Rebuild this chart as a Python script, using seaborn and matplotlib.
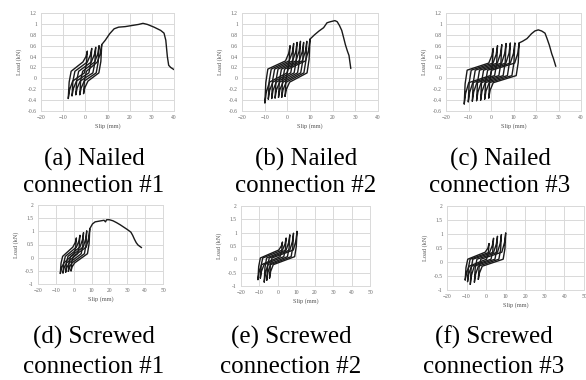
import matplotlib
matplotlib.use('Agg')
import matplotlib.pyplot as plt
import seaborn as sns
import pandas as pd
import numpy as np

# ---- data (slip in mm, load in kN) ----
# (a) Nailed connection #1
A_LOOP_X = [
    [-7.7, -7.3, -6.4, -1.1, 0.3, 0.9, 0.5, -0.4, -5.7, -7.1, -7.7],
    [-6.0, -5.6, -4.7, 0.9, 2.3, 2.9, 2.5, 1.6, -4.0, -5.4, -6.0],
    [-4.3, -3.9, -3.0, 2.7, 4.1, 4.7, 4.3, 3.4, -2.3, -3.7, -4.3],
    [-2.5, -2.1, -1.2, 4.2, 5.6, 6.2, 5.8, 4.9, -0.5, -1.9, -2.5],
    [-0.8, -0.4, 0.5, 5.4, 6.8, 7.4, 7.0, 6.1, 1.2, -0.2, -0.8],
]
A_LOOP_Y = [
    [-0.37, -0.07, 0.13, 0.30, 0.40, 0.50, 0.26, 0.10, -0.05, -0.21, -0.37],
    [-0.32, -0.05, 0.13, 0.30, 0.43, 0.55, 0.28, 0.10, -0.05, -0.19, -0.32],
    [-0.30, -0.04, 0.13, 0.30, 0.44, 0.57, 0.29, 0.10, -0.05, -0.18, -0.30],
    [-0.30, -0.04, 0.13, 0.30, 0.45, 0.60, 0.30, 0.10, -0.05, -0.18, -0.30],
    [-0.28, -0.03, 0.13, 0.30, 0.46, 0.62, 0.31, 0.10, -0.05, -0.17, -0.28],
]
A_ENV_X = [7.4, 9, 11, 13, 15, 18, 21, 24, 26, 28, 31, 34, 35.5, 36.3, 37, 37.6, 38.5, 40]
A_ENV_Y = [0.62, 0.70, 0.82, 0.91, 0.94, 0.95, 0.97, 0.99, 1.01, 0.99, 0.94, 0.88, 0.83, 0.70, 0.40, 0.24, 0.20, 0.16]

# (b) Nailed connection #2
B_LOOP_X = [
    [-9.9, -9.5, -8.6, -0.8, 0.6, 1.2, 0.8, -0.1, -7.9, -9.3, -9.9],
    [-8.4, -8.0, -7.1, 0.8, 2.2, 2.8, 2.4, 1.5, -6.4, -7.8, -8.4],
    [-6.9, -6.5, -5.6, 2.3, 3.7, 4.3, 3.9, 3.0, -4.9, -6.3, -6.9],
    [-5.4, -5.0, -4.1, 3.8, 5.2, 5.8, 5.4, 4.5, -3.4, -4.8, -5.4],
    [-3.9, -3.5, -2.6, 5.2, 6.6, 7.2, 6.8, 5.9, -1.9, -3.3, -3.9],
    [-2.5, -2.1, -1.2, 6.6, 8.0, 8.6, 8.2, 7.3, -0.5, -1.9, -2.5],
    [-1.0, -0.6, 0.3, 8.0, 9.4, 10.0, 9.6, 8.7, 1.0, -0.4, -1.0],
]
B_LOOP_Y = [
    [-0.45, -0.08, 0.17, 0.32, 0.46, 0.60, 0.30, 0.10, -0.07, -0.26, -0.45],
    [-0.38, -0.05, 0.17, 0.32, 0.48, 0.64, 0.32, 0.10, -0.07, -0.22, -0.38],
    [-0.37, -0.04, 0.17, 0.32, 0.49, 0.66, 0.32, 0.10, -0.07, -0.22, -0.37],
    [-0.36, -0.04, 0.17, 0.32, 0.50, 0.68, 0.33, 0.10, -0.07, -0.21, -0.36],
    [-0.35, -0.04, 0.17, 0.32, 0.49, 0.66, 0.32, 0.10, -0.07, -0.21, -0.35],
    [-0.35, -0.04, 0.17, 0.32, 0.50, 0.68, 0.33, 0.10, -0.07, -0.21, -0.35],
    [-0.33, -0.02, 0.17, 0.32, 0.52, 0.72, 0.35, 0.10, -0.07, -0.20, -0.33],
]
B_ENV_X = [10, 12, 14, 16, 17.5, 19, 21, 22, 23, 24, 25, 25.6, 26.5, 27.2, 27.6, 28]
B_ENV_Y = [0.72, 0.80, 0.87, 0.93, 1.02, 1.04, 1.06, 1.04, 0.97, 0.88, 0.72, 0.62, 0.50, 0.42, 0.30, 0.18]

# (c) Nailed connection #3
C_LOOP_X = [
    [-11.9, -11.5, -10.6, -1.0, 0.4, 1.0, 0.6, -0.3, -9.9, -11.3, -11.9],
    [-10.1, -9.7, -8.8, 0.9, 2.3, 2.9, 2.5, 1.6, -8.1, -9.5, -10.1],
    [-8.3, -7.9, -7.0, 2.8, 4.2, 4.8, 4.4, 3.5, -6.3, -7.7, -8.3],
    [-6.4, -6.0, -5.1, 4.7, 6.1, 6.7, 6.3, 5.4, -4.4, -5.8, -6.4],
    [-4.6, -4.2, -3.3, 6.6, 8.0, 8.6, 8.2, 7.3, -2.6, -4.0, -4.6],
    [-2.8, -2.4, -1.5, 8.6, 10.0, 10.6, 10.2, 9.3, -0.8, -2.2, -2.8],
    [-1.0, -0.6, 0.3, 10.5, 11.9, 12.5, 12.1, 11.2, 1.0, -0.4, -1.0],
]
C_LOOP_Y = [
    [-0.47, -0.10, 0.15, 0.28, 0.42, 0.55, 0.25, 0.05, -0.08, -0.28, -0.47],
    [-0.43, -0.08, 0.15, 0.28, 0.44, 0.60, 0.27, 0.05, -0.08, -0.26, -0.43],
    [-0.42, -0.08, 0.15, 0.28, 0.45, 0.62, 0.28, 0.05, -0.08, -0.25, -0.42],
    [-0.41, -0.07, 0.15, 0.28, 0.46, 0.64, 0.29, 0.05, -0.08, -0.25, -0.41],
    [-0.40, -0.07, 0.15, 0.28, 0.46, 0.65, 0.29, 0.05, -0.08, -0.24, -0.40],
    [-0.38, -0.06, 0.15, 0.28, 0.46, 0.65, 0.29, 0.05, -0.08, -0.23, -0.38],
    [-0.36, -0.05, 0.15, 0.28, 0.46, 0.65, 0.29, 0.05, -0.08, -0.22, -0.36],
]
C_ENV_X = [12.5, 14, 16, 18, 19.5, 21, 22.5, 24, 25, 26, 27, 27.7, 28, 28.8]
C_ENV_Y = [0.65, 0.68, 0.73, 0.82, 0.87, 0.89, 0.87, 0.83, 0.72, 0.60, 0.45, 0.37, 0.33, 0.22]

# (d) Screwed connection #1
D_LOOP_X = [
    [-7.5, -7.1, -6.2, -0.5, 0.9, 1.5, 1.1, 0.2, -5.5, -6.9, -7.5],
    [-6.0, -5.6, -4.7, 1.5, 2.9, 3.5, 3.1, 2.2, -4.0, -5.4, -6.0],
    [-4.5, -4.1, -3.2, 3.5, 4.9, 5.5, 5.1, 4.2, -2.5, -3.9, -4.5],
    [-3.0, -2.6, -1.7, 5.3, 6.7, 7.3, 6.9, 6.0, -1.0, -2.4, -3.0],
    [-1.5, -1.1, -0.2, 7.0, 8.4, 9.0, 8.6, 7.7, 0.5, -0.9, -1.5],
]
D_LOOP_Y = [
    [-0.60, -0.21, 0.05, 0.40, 0.58, 0.75, 0.39, 0.15, -0.20, -0.40, -0.60],
    [-0.58, -0.20, 0.05, 0.40, 0.63, 0.85, 0.43, 0.15, -0.20, -0.39, -0.58],
    [-0.55, -0.19, 0.05, 0.40, 0.68, 0.95, 0.47, 0.15, -0.20, -0.38, -0.55],
    [-0.52, -0.18, 0.05, 0.40, 0.71, 1.02, 0.50, 0.15, -0.20, -0.36, -0.52],
    [-0.50, -0.17, 0.05, 0.40, 0.75, 1.10, 0.53, 0.15, -0.20, -0.35, -0.50],
]
D_ENV_X = [9.0, 10.5, 12, 14.5, 17, 17.8, 18.4, 20, 22, 24, 26, 28, 30, 32, 33, 34, 35, 36, 38]
D_ENV_Y = [1.10, 1.28, 1.36, 1.39, 1.42, 1.36, 1.44, 1.44, 1.40, 1.33, 1.25, 1.16, 1.07, 0.97, 0.85, 0.70, 0.57, 0.48, 0.38]

# (e) Screwed connection #2
E_LOOP_X = [
    [-10.8, -10.4, -9.5, 0.5, 1.9, 2.5, 2.1, 1.2, -8.8, -10.2, -10.8],
    [-9.5, -9.1, -8.2, 2.5, 3.9, 4.5, 4.1, 3.2, -7.5, -8.9, -9.5],
    [-7.4, -7.0, -6.1, 4.5, 5.9, 6.5, 6.1, 5.2, -5.4, -6.8, -7.4],
    [-6.0, -5.6, -4.7, 6.5, 7.9, 8.5, 8.1, 7.2, -4.0, -5.4, -6.0],
    [-4.5, -4.1, -3.2, 8.4, 9.8, 10.4, 10.0, 9.1, -2.5, -3.9, -4.5],
]
E_LOOP_Y = [
    [-0.76, -0.27, 0.05, 0.35, 0.50, 0.65, 0.32, 0.10, -0.20, -0.48, -0.76],
    [-0.70, -0.24, 0.05, 0.35, 0.58, 0.80, 0.38, 0.10, -0.20, -0.45, -0.70],
    [-0.85, -0.31, 0.05, 0.35, 0.64, 0.92, 0.43, 0.10, -0.20, -0.53, -0.85],
    [-0.78, -0.28, 0.05, 0.35, 0.67, 0.98, 0.45, 0.10, -0.20, -0.49, -0.78],
    [-0.70, -0.24, 0.05, 0.35, 0.70, 1.05, 0.48, 0.10, -0.20, -0.45, -0.70],
]

# (f) Screwed connection #3
F_LOOP_X = [
    [-10.7, -10.3, -9.4, -0.5, 0.9, 1.5, 1.1, 0.2, -8.7, -10.1, -10.7],
    [-9.5, -9.1, -8.2, 1.8, 3.2, 3.8, 3.4, 2.5, -7.5, -8.9, -9.5],
    [-8.1, -7.7, -6.8, 3.8, 5.2, 5.8, 5.4, 4.5, -6.1, -7.5, -8.1],
    [-6.0, -5.6, -4.7, 5.8, 7.2, 7.8, 7.4, 6.5, -4.0, -5.4, -6.0],
    [-4.0, -3.6, -2.7, 8.0, 9.4, 10.0, 9.6, 8.7, -2.0, -3.4, -4.0],
]
F_LOOP_Y = [
    [-0.64, -0.20, 0.10, 0.35, 0.50, 0.66, 0.32, 0.10, -0.15, -0.40, -0.64],
    [-0.70, -0.22, 0.10, 0.35, 0.60, 0.85, 0.40, 0.10, -0.15, -0.43, -0.70],
    [-0.80, -0.26, 0.10, 0.35, 0.64, 0.92, 0.43, 0.10, -0.15, -0.48, -0.80],
    [-0.72, -0.23, 0.10, 0.35, 0.67, 0.98, 0.45, 0.10, -0.15, -0.44, -0.72],
    [-0.62, -0.19, 0.10, 0.35, 0.70, 1.04, 0.48, 0.10, -0.15, -0.39, -0.62],
]

NAILED_XTICKS = [-20, -10, 0, 10, 20, 30, 40]
NAILED_YTICKS = [-0.6, -0.4, -0.2, 0, 0.2, 0.4, 0.6, 0.8, 1, 1.2]
SCREWED_XTICKS = [-20, -10, 0, 10, 20, 30, 40, 50]
SCREWED_YTICKS = [-1, -0.5, 0, 0.5, 1, 1.5, 2]

CAPTIONS = [
    ('(a) Nailed', 'connection #1'), ('(b) Nailed', 'connection #2'), ('(c) Nailed', 'connection #3'),
    ('(d) Screwed', 'connection #1'), ('(e) Screwed', 'connection #2'), ('(f) Screwed', 'connection #3'),
]

W, H = 586, 380
sns.set_style('whitegrid')
plt.rcParams['font.family'] = ['Liberation Serif', 'DejaVu Serif']


def to_frame(loops_x, loops_y, env_x=None, env_y=None):
    rows = []
    for i, (xs, ys) in enumerate(zip(loops_x, loops_y)):
        for k, (x, y) in enumerate(zip(xs, ys)):
            rows.append((f'loop{i}', k, x, y))
    if env_x is not None:
        for k, (x, y) in enumerate(zip(env_x, env_y)):
            rows.append(('env', k, x, y))
    return pd.DataFrame(rows, columns=['seg', 'order', 'slip', 'load'])


def pix_axes(fig, left, right, top, bottom):
    return fig.add_axes([left / W, 1 - bottom / H, (right - left) / W, (bottom - top) / H])


def style_axes(ax, xticks, yticks):
    ax.set_xlim(xticks[0], xticks[-1])
    ax.set_ylim(yticks[0], yticks[-1])
    ax.set_xticks(xticks)
    ax.set_yticks(yticks)
    ax.set_yticklabels([f'{t:g}' for t in yticks])
    ax.grid(True, color='#d9d9d9', linewidth=0.7)
    for sp in ax.spines.values():
        sp.set_color('#d9d9d9')
        sp.set_linewidth(0.7)
    ax.tick_params(length=0, labelsize=4, labelcolor='#666666', pad=3)
    ax.set_xlabel('Slip (mm)', fontsize=4.5, color='#555555', labelpad=2)
    ax.set_ylabel('Load (kN)', fontsize=4.5, color='#555555', labelpad=4)
    ax.set_facecolor('white')


fig = plt.figure(figsize=(W / 100, H / 100), dpi=100)

panels = [
    ((41, 174, 13, 111), to_frame(A_LOOP_X, A_LOOP_Y, A_ENV_X, A_ENV_Y), NAILED_XTICKS, NAILED_YTICKS, (94, 159, 186)),
    ((242, 378, 13, 111), to_frame(B_LOOP_X, B_LOOP_Y, B_ENV_X, B_ENV_Y), NAILED_XTICKS, NAILED_YTICKS, (306, 159, 186)),
    ((446, 581, 13, 111), to_frame(C_LOOP_X, C_LOOP_Y, C_ENV_X, C_ENV_Y), NAILED_XTICKS, NAILED_YTICKS, (500, 159, 186)),
    ((38, 163, 205, 284), to_frame(D_LOOP_X, D_LOOP_Y, D_ENV_X, D_ENV_Y), SCREWED_XTICKS, SCREWED_YTICKS, (94, 337, 367)),
    ((241, 370, 206, 286), to_frame(E_LOOP_X, E_LOOP_Y), SCREWED_XTICKS, SCREWED_YTICKS, (291, 337, 367)),
    ((447, 584, 206, 290), to_frame(F_LOOP_X, F_LOOP_Y), SCREWED_XTICKS, SCREWED_YTICKS, (494, 337, 367)),
]

for (box, df, xt, yt, cap), (line1, line2) in zip(panels, CAPTIONS):
    ax = pix_axes(fig, *box)
    sns.lineplot(data=df, x='slip', y='load', units='seg', estimator=None, sort=False,
                 color='#1a1a1a', linewidth=1.0, ax=ax)
    style_axes(ax, xt, yt)
    cx, y1, y2 = cap
    fig.text(cx / W, 1 - y1 / H, line1, ha='center', va='center', fontsize=18, color='black')
    fig.text(cx / W, 1 - y2 / H, line2, ha='center', va='center', fontsize=18, color='black')

fig.savefig('out.png', dpi=100)
